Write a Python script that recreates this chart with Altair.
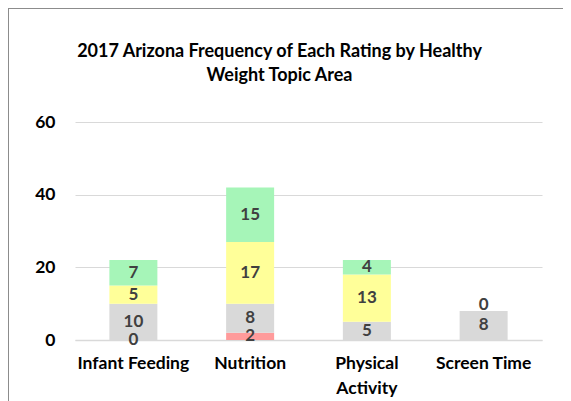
import altair as alt
import pandas as pd

categories = ["Infant Feeding", "Nutrition", "Physical Activity", "Screen Time"]
ratings = ["Red", "Grey", "Yellow", "Green"]
red_vals = [0, 2, None, None]
grey_vals = [10, 8, 5, 8]
yellow_vals = [5, 17, 13, 0]
green_vals = [7, 15, 4, None]
colors = ["#FF9B9B", "#D9D9D9", "#FFFF99", "#A6F5B8"]
y_ticks = [0, 20, 40, 60]

rows = []
for ri, (r, vals) in enumerate(zip(ratings, [red_vals, grey_vals, yellow_vals, green_vals])):
    for c, v in zip(categories, vals):
        if v is not None:
            rows.append({"category": c, "rating": r, "order": ri, "value": v})
df = pd.DataFrame(rows)

FONT = "Lato"
W, H = 467, 218
PAD = {"left": 67, "top": 114, "right": 21, "bottom": 62}

base = alt.Chart(df).transform_stack(
    stack="value", groupby=["category"], as_=["y0", "y1"],
    sort=[alt.SortField("order")]
).transform_calculate(
    mid="(datum.y0 + datum.y1) / 2 + ((datum.value == 0 && datum.y0 > 0) ? 1.6 : 0)"
)

x_enc = alt.X(
    "category:N", sort=categories, title=None,
    scale=alt.Scale(paddingInner=0, paddingOuter=0),
    axis=alt.Axis(
        labelAngle=0, ticks=False, domainColor="#D9D9D9", domainWidth=1.5,
        labelFont=FONT, labelFontWeight="bold", labelFontSize=17.5, labelColor="black",
        labelPadding=14, labelLineHeight=25,
        labelExpr="datum.value == 'Physical Activity' ? split(datum.value, ' ') : datum.value",
    ),
)

bars = base.mark_bar(size=48).encode(
    x=x_enc,
    y=alt.Y(
        "y0:Q", title=None,
        scale=alt.Scale(domain=[0, 60], nice=False),
        axis=alt.Axis(
            values=y_ticks, domain=False, ticks=False, gridColor="#D9D9D9",
            labelFont=FONT, labelFontWeight="bold", labelFontSize=17.5, labelColor="black",
            labelPadding=20,
        ),
    ),
    y2="y1:Q",
    color=alt.Color("rating:N", scale=alt.Scale(domain=ratings, range=colors), legend=None),
)

labels = base.mark_text(
    font=FONT, fontWeight="bold", fontSize=17, color="#404040", baseline="middle"
).encode(
    x=alt.X("category:N", sort=categories),
    y=alt.Y("mid:Q"),
    text=alt.Text("value:Q"),
)

frame_left = alt.Chart(df).mark_rule(color="#8C8C8C", strokeWidth=1).encode(
    x=alt.value(-66.5), y=alt.value(-114), y2=alt.value(H + 70)
)
frame_top = alt.Chart(df).mark_rule(color="#8C8C8C", strokeWidth=1).encode(
    x=alt.value(-67), x2=alt.value(W + 21), y=alt.value(-113.5)
)

chart = alt.layer(bars, labels, frame_left, frame_top).properties(
    width=W, height=H,
    padding=PAD,
    autosize=alt.AutoSizeParams(type="none"),
    title=alt.Title(
        ["2017 Arizona Frequency of Each Rating by Healthy", "Weight Topic Area"],
        font=FONT, fontSize=18, fontWeight="bold", color="black",
        lineHeight=24, anchor="middle", frame="group", dx=-29, offset=-77,
    ),
).configure_view(stroke=None)

chart.save("out.html", embed_options={"renderer": "svg", "actions": False})
